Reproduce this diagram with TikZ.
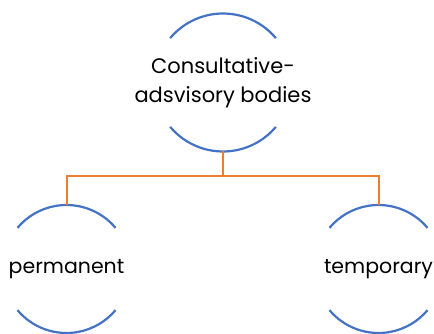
\documentclass[tikz,border=0pt]{standalone}
\usepackage{fontspec}
\setmainfont{Poppins}
\usepackage{tikz}
\usetikzlibrary{positioning, calc}

\begin{document}
\begin{tikzpicture}[
  x=1pt, y=1pt,
  hub/.style = {circle, minimum size=138pt, inner sep=-30pt, outer sep=0pt, align=center, font=\fontsize{21}{29}\selectfont},
  leaf/.style = {circle, minimum size=128pt, inner sep=-15pt, outer sep=0pt, font=\fontsize{20.5}{27}\selectfont},
  rim/.style = {draw=rimblue, line width=2.2pt},
  link/.style = {draw=linkorange, line width=2pt},
]
\definecolor{rimblue}{HTML}{4472C4}
\definecolor{linkorange}{HTML}{ED7D31}
\useasboundingbox (0,0) rectangle (434,-334);

% Parameters
\def\Rhub{69}
\def\Rleaf{64}

% Nodes
\node[hub] (top) at (223,-82.5) {Consultative-\\adsvisory bodies};
\node[leaf] (perm) at (66.5,-269) {permanent};
\node[leaf] (temp) at (378.5,-269) {temporary};

% Arcs (top and bottom of each circle)
\draw[rim] (top.40) arc[start angle=40, end angle=140, radius=\Rhub];
\draw[rim] (top.220) arc[start angle=220, end angle=320, radius=\Rhub];
\draw[rim] (perm.40) arc[start angle=40, end angle=140, radius=\Rleaf];
\draw[rim] (perm.220) arc[start angle=220, end angle=320, radius=\Rleaf];
\draw[rim] (temp.40) arc[start angle=40, end angle=140, radius=\Rleaf];
\draw[rim] (temp.220) arc[start angle=220, end angle=320, radius=\Rleaf];

% Connectors
\coordinate (fork) at ($(top.south)+(0,-25)$);
\draw[link] (top.south) -- (fork) -| (perm.north);
\draw[link] (fork) -| (temp.north);

\end{tikzpicture}
\end{document}
